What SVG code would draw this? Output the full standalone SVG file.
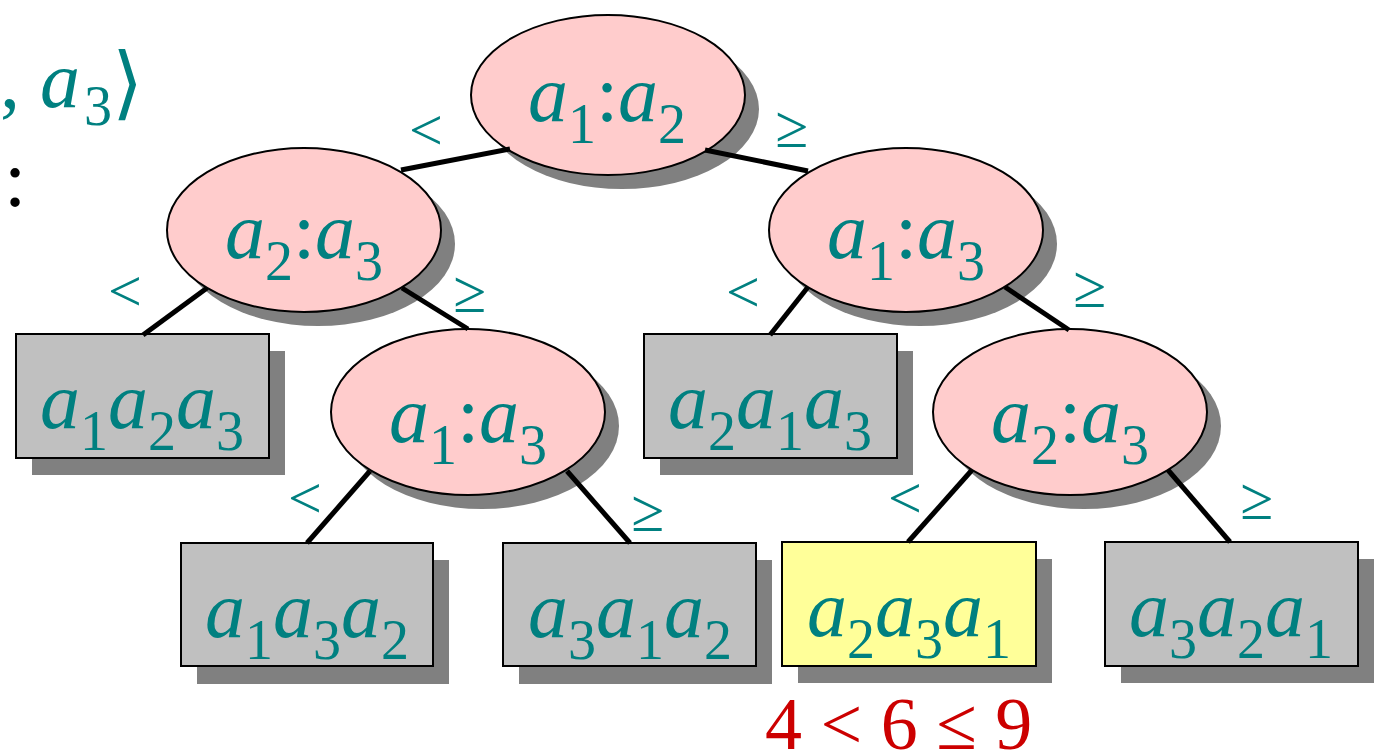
<svg xmlns="http://www.w3.org/2000/svg" width="1377" height="756" viewBox="0 0 1377 756">
<defs>
<style>
.sh{fill:#808080;stroke:none}
.el{fill:#FFCCCC;stroke:#000;stroke-width:2}
.bx{fill:#C0C0C0;stroke:#000;stroke-width:2}
.hl{fill:#FFFF99;stroke:#000;stroke-width:2}
.t{font-family:"Liberation Serif","DejaVu Serif",serif;font-size:80px;fill:#008080}
.i{font-style:italic}
.s{font-size:56px;font-style:normal}
.lb{font-family:"Liberation Serif","DejaVu Serif",serif;font-size:60px;fill:#008080;text-anchor:middle}
.cn line{stroke:#000;stroke-width:5}
</style>
</defs>
<rect width="1377" height="756" fill="#fff"/>

<g id="top-left-text">
<text class="t" x="0" y="107">,</text>
<text class="t i" x="40" y="107">a</text>
<text class="t s" x="84" y="125">3</text>
<text class="t" x="112" y="110" font-size="74">⟩</text>
<text font-family="Liberation Serif,serif" font-size="80" fill="#000" x="4" y="206">:</text>
</g>

<g id="n-root">
<ellipse class="sh" cx="622" cy="109" rx="137" ry="80"/>
<ellipse class="el" cx="608" cy="95" rx="137" ry="80"/>
<text class="t" x="607" y="121" text-anchor="middle"><tspan class="i">a</tspan><tspan class="s" dy="22">1</tspan><tspan dy="-22">:</tspan><tspan class="i">a</tspan><tspan class="s" dy="22">2</tspan></text>
</g>

<g id="n-left">
<ellipse class="sh" cx="318" cy="244" rx="137" ry="82"/>
<ellipse class="el" cx="304" cy="230" rx="137" ry="82"/>
<text class="t" x="304" y="258" text-anchor="middle"><tspan class="i">a</tspan><tspan class="s" dy="22">2</tspan><tspan dy="-22">:</tspan><tspan class="i">a</tspan><tspan class="s" dy="22">3</tspan></text>
</g>

<g id="n-right">
<ellipse class="sh" cx="920" cy="244" rx="137" ry="82"/>
<ellipse class="el" cx="906" cy="230" rx="137" ry="82"/>
<text class="t" x="906" y="258" text-anchor="middle"><tspan class="i">a</tspan><tspan class="s" dy="22">1</tspan><tspan dy="-22">:</tspan><tspan class="i">a</tspan><tspan class="s" dy="22">3</tspan></text>
</g>

<g id="n-mid">
<ellipse class="sh" cx="482" cy="426" rx="137" ry="83"/>
<ellipse class="el" cx="468" cy="412" rx="137" ry="83"/>
<text class="t" x="468" y="442" text-anchor="middle"><tspan class="i">a</tspan><tspan class="s" dy="22">1</tspan><tspan dy="-22">:</tspan><tspan class="i">a</tspan><tspan class="s" dy="22">3</tspan></text>
</g>

<g id="n-lowright">
<ellipse class="sh" cx="1084" cy="426" rx="137" ry="83"/>
<ellipse class="el" cx="1070" cy="412" rx="137" ry="83"/>
<text class="t" x="1070" y="442" text-anchor="middle"><tspan class="i">a</tspan><tspan class="s" dy="22">2</tspan><tspan dy="-22">:</tspan><tspan class="i">a</tspan><tspan class="s" dy="22">3</tspan></text>
</g>

<g id="leaf-a1a2a3">
<rect class="sh" x="32" y="351" width="253" height="124"/>
<rect class="bx" x="16" y="334" width="253" height="124"/>
<text class="t" x="142" y="428" text-anchor="middle"><tspan class="i">a</tspan><tspan class="s" dy="22">1</tspan><tspan class="i" dy="-22">a</tspan><tspan class="s" dy="22">2</tspan><tspan class="i" dy="-22">a</tspan><tspan class="s" dy="22">3</tspan></text>
</g>

<g id="leaf-a2a1a3">
<rect class="sh" x="660" y="351" width="253" height="124"/>
<rect class="bx" x="644" y="334" width="253" height="124"/>
<text class="t" x="770" y="428" text-anchor="middle"><tspan class="i">a</tspan><tspan class="s" dy="22">2</tspan><tspan class="i" dy="-22">a</tspan><tspan class="s" dy="22">1</tspan><tspan class="i" dy="-22">a</tspan><tspan class="s" dy="22">3</tspan></text>
</g>

<g id="leaf-a1a3a2">
<rect class="sh" x="197" y="560" width="252" height="124"/>
<rect class="bx" x="181" y="543" width="252" height="123"/>
<text class="t" x="307" y="637" text-anchor="middle"><tspan class="i">a</tspan><tspan class="s" dy="22">1</tspan><tspan class="i" dy="-22">a</tspan><tspan class="s" dy="22">3</tspan><tspan class="i" dy="-22">a</tspan><tspan class="s" dy="22">2</tspan></text>
</g>

<g id="leaf-a3a1a2">
<rect class="sh" x="519" y="560" width="253" height="124"/>
<rect class="bx" x="503" y="543" width="253" height="123"/>
<text class="t" x="630" y="637" text-anchor="middle"><tspan class="i">a</tspan><tspan class="s" dy="22">3</tspan><tspan class="i" dy="-22">a</tspan><tspan class="s" dy="22">1</tspan><tspan class="i" dy="-22">a</tspan><tspan class="s" dy="22">2</tspan></text>
</g>

<g id="leaf-a2a3a1">
<rect class="sh" x="798" y="559" width="254" height="124"/>
<rect class="hl" x="782" y="542" width="254" height="124"/>
<text class="t" x="909" y="636" text-anchor="middle"><tspan class="i">a</tspan><tspan class="s" dy="22">2</tspan><tspan class="i" dy="-22">a</tspan><tspan class="s" dy="22">3</tspan><tspan class="i" dy="-22">a</tspan><tspan class="s" dy="22">1</tspan></text>
</g>

<g id="leaf-a3a2a1">
<rect class="sh" x="1121" y="559" width="253" height="124"/>
<rect class="bx" x="1105" y="542" width="253" height="124"/>
<text class="t" x="1231" y="636" text-anchor="middle"><tspan class="i">a</tspan><tspan class="s" dy="22">3</tspan><tspan class="i" dy="-22">a</tspan><tspan class="s" dy="22">2</tspan><tspan class="i" dy="-22">a</tspan><tspan class="s" dy="22">1</tspan></text>
</g>

<g id="connectors" class="cn">
<line x1="401" y1="170" x2="510" y2="149"/>
<line x1="705" y1="150" x2="808" y2="171"/>
<line x1="207" y1="288" x2="143" y2="335"/>
<line x1="402" y1="288" x2="468" y2="329"/>
<line x1="808" y1="287" x2="770" y2="335"/>
<line x1="1005" y1="287" x2="1069" y2="330"/>
<line x1="370" y1="471" x2="307" y2="543"/>
<line x1="567" y1="471" x2="630" y2="543"/>
<line x1="972" y1="470" x2="908" y2="542"/>
<line x1="1168" y1="470" x2="1230" y2="542"/>
</g>

<g id="edge-labels">
<text class="lb" x="426" y="150">&lt;</text>
<text class="lb" x="792" y="147">≥</text>
<text class="lb" x="125" y="311">&lt;</text>
<text class="lb" x="470" y="312">≥</text>
<text class="lb" x="743" y="312">&lt;</text>
<text class="lb" x="1090" y="307">≥</text>
<text class="lb" x="305" y="518">&lt;</text>
<text class="lb" x="648" y="531">≥</text>
<text class="lb" x="905" y="518">&lt;</text>
<text class="lb" x="1257" y="519">≥</text>
</g>

<g id="note">
<text x="765" y="749" font-family="Liberation Serif,serif" font-size="74" fill="#CC0000">4 &lt; 6 ≤ 9</text>
</g>
</svg>
